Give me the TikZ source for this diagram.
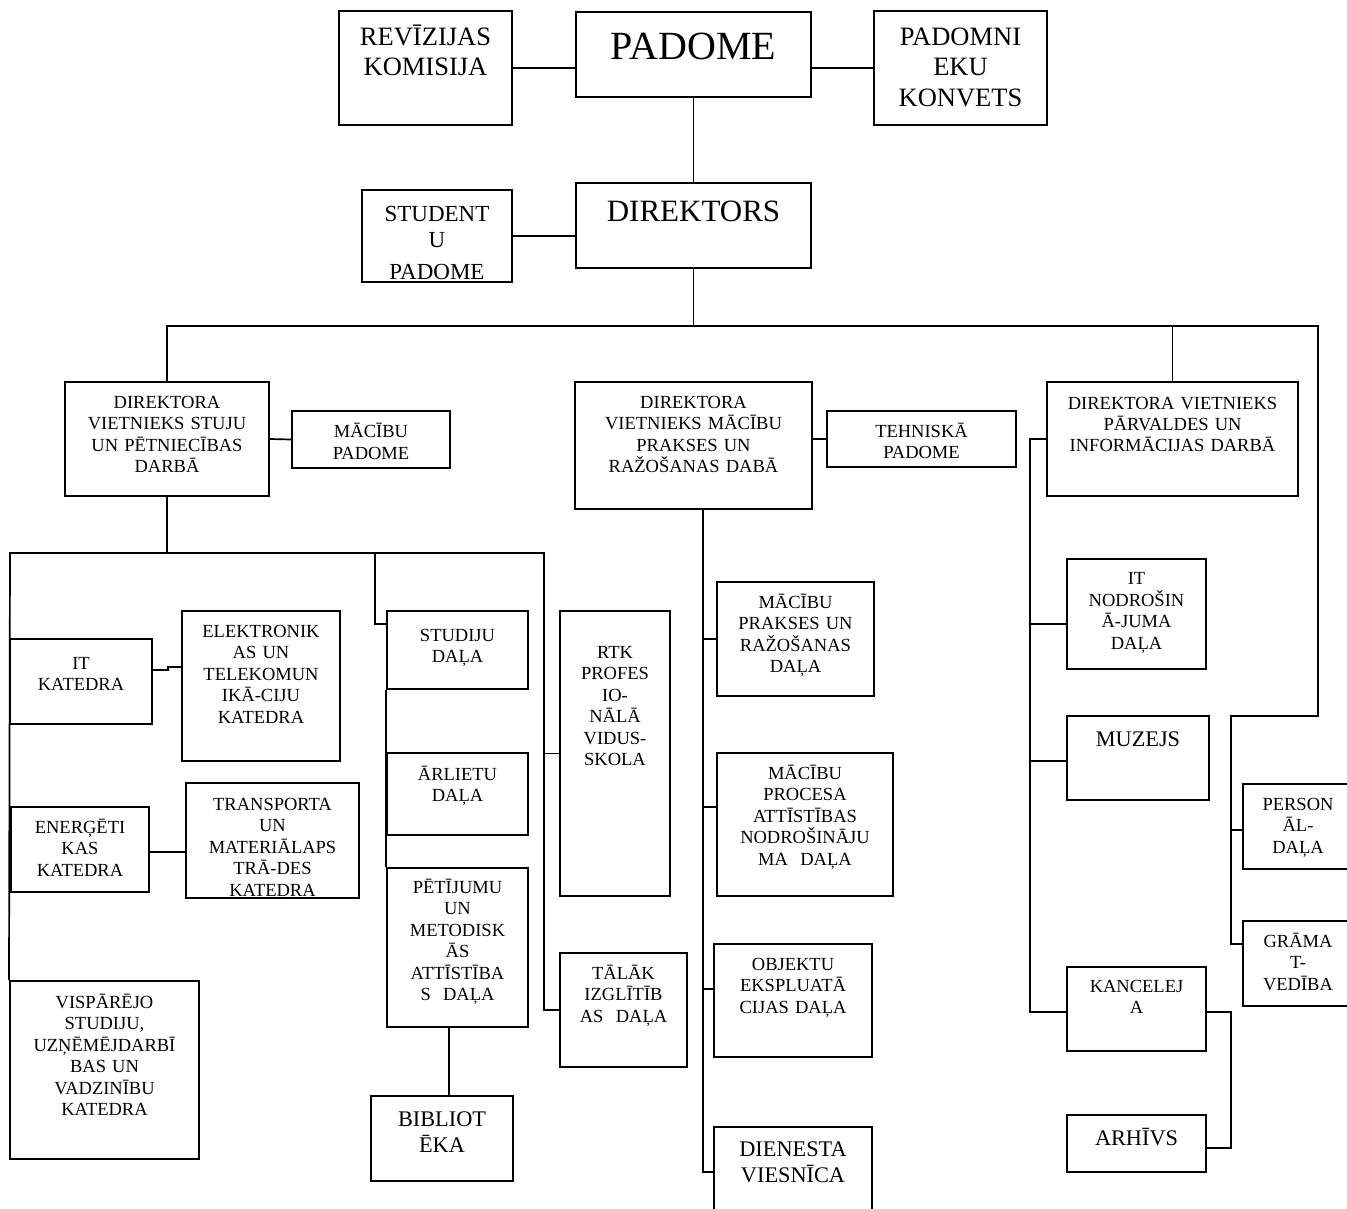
\documentclass[tikz,border=0pt]{standalone}
\usepackage{fontspec}
\setmainfont{Liberation Serif}
\usetikzlibrary{positioning}
\begin{document}
\begin{tikzpicture}[x=1pt, y=-1pt, node distance=8.5pt,
    box/.style={draw, line width=2pt, inner sep=0pt},
    link/.style={line width=1.7pt},
    lbl/.style={anchor=north, inner sep=0pt, text width=320pt, align=center,
      font=\fontsize{18.5}{21.5}\selectfont, execute at begin node={\rule{0pt}{1em}}},
    lblmid/.style={lbl, font=\fontsize{22.3}{26}\selectfont},
    lblbig/.style={lbl, font=\fontsize{26.5}{30.8}\selectfont}]
  \useasboundingbox (0,0) rectangle (1347,1209);
  \clip (0,0) rectangle (1347,1209);
  % top level
  \node[box, minimum width=173pt, minimum height=114pt] (rev) at (425.5,68) {};
  \node[box, minimum width=235pt, minimum height=85pt] (pad) at (693.5,54.5) {};
  \node[box, minimum width=173pt, minimum height=114pt] (pdn) at (960.5,68) {};
  \node[box, minimum width=150pt, minimum height=92pt] (stp) at (437,236) {};
  \node[box, minimum width=235pt, minimum height=85pt] (dir) at (693.5,225.5) {};
  \node[lblbig, below=of rev.north] (revT) {REVĪZIJAS\\KOMISIJA};
  \node[lbl, font=\fontsize{40}{46}\selectfont, below=8pt of pad.north] (padT) {PADOME};
  \node[lblbig, below=of pdn.north] (pdnT) {PADOMNI\\EKU\\KONVETS};
  \node[lbl, font=\fontsize{23}{26}\selectfont, below=9pt of stp.north] (stpT) {STUDENT\\U\\[6pt]PADOME};
  \node[lbl, font=\fontsize{31}{36}\selectfont, below=8pt of dir.north] (dirT) {DIREKTORS};
  % deputies
  \node[box, minimum width=204pt, minimum height=114pt] (dv1) at (167,439) {};
  \node[box, minimum width=158pt, minimum height=57pt] (mpad) at (371,439.5) {};
  \node[box, minimum width=237pt, minimum height=127pt] (dv2) at (693.5,445.5) {};
  \node[box, minimum width=189pt, minimum height=56pt] (tpad) at (921.5,439) {};
  \node[box, minimum width=251pt, minimum height=114pt] (dv3) at (1172.5,439) {};
  \node[lbl, below=of dv1.north] (dv1T) {DIREKTORA\\VIETNIEKS STUJU\\UN PĒTNIECĪBAS\\DARBĀ};
  \node[lbl, below=9pt of mpad.north] (mpadT) {MĀCĪBU\\PADOME};
  \node[lbl, below=of dv2.north] (dv2T) {DIREKTORA\\VIETNIEKS MĀCĪBU\\PRAKSES UN\\RAŽOŠANAS DABĀ};
  \node[lbl, below=of tpad.north] (tpadT) {TEHNISKĀ\\PADOME};
  \node[lbl, font=\fontsize{18.5}{21}\selectfont, below=9.5pt of dv3.north] (dv3T) {DIREKTORA VIETNIEKS\\PĀRVALDES UN\\INFORMĀCIJAS DARBĀ};
  % left branch
  \node[box, minimum width=142pt, minimum height=85pt] (itk) at (81,681.5) {};
  \node[box, minimum width=158pt, minimum height=150pt] (elk) at (261,686) {};
  \node[box, minimum width=138pt, minimum height=85pt] (enk) at (80,849.5) {};
  \node[box, minimum width=173pt, minimum height=115pt] (trk) at (272.5,840.5) {};
  \node[box, minimum width=189pt, minimum height=178pt] (vsp) at (104.5,1070) {};
  \node[box, minimum width=141pt, minimum height=78pt] (std) at (457.5,650) {};
  \node[box, minimum width=141pt, minimum height=82pt] (arl) at (457.5,794) {};
  \node[box, minimum width=141pt, minimum height=159pt] (pet) at (457.5,947.5) {};
  \node[box, minimum width=142pt, minimum height=85pt] (bib) at (442,1138.5) {};
  \node[box, minimum width=110pt, minimum height=285pt] (rtk) at (615,753.5) {};
  \node[box, minimum width=127pt, minimum height=114pt] (tal) at (623.5,1010) {};
  \node[lbl, below=12.5pt of itk.north] (itkT) {IT\\KATEDRA};
  \node[lbl, below=of elk.north] (elkT) {ELEKTRONIK\\AS UN\\TELEKOMUN\\IKĀ-CIJU\\KATEDRA};
  \node[lbl, below=of enk.north] (enkT) {ENERĢĒTI\\KAS\\KATEDRA};
  \node[lbl, below=9.5pt of trk.north] (trkT) {TRANSPORTA\\UN\\MATERIĀLAPS\\TRĀ-DES\\KATEDRA};
  \node[lbl, below=9.5pt of vsp.north] (vspT) {VISPĀRĒJO\\STUDIJU,\\UZŅĒMĒJDARBĪ\\BAS UN\\VADZINĪBU\\KATEDRA};
  \node[lbl, below=12.5pt of std.north] (stdT) {STUDIJU\\DAĻA};
  \node[lbl, below=9.5pt of arl.north] (arlT) {ĀRLIETU\\DAĻA};
  \node[lbl, below=7.5pt of pet.north] (petT) {PĒTĪJUMU\\UN\\METODISK\\ĀS\\ATTĪSTĪBA\\S~~DAĻA};
  \node[lblmid, below=of bib.north] (bibT) {BIBLIOT\\ĒKA};
  \node[lbl, below=29.5pt of rtk.north] (rtkT) {RTK\\PROFES\\IO-\\NĀLĀ\\VIDUS-\\SKOLA};
  \node[lbl, below=of tal.north] (talT) {TĀLĀK\\IZGLĪTĪB\\AS~~DAĻA};
  % middle branch
  \node[box, minimum width=157pt, minimum height=114pt] (mpr) at (795.5,639) {};
  \node[box, minimum width=176pt, minimum height=143pt] (mpc) at (805,824.5) {};
  \node[box, minimum width=158pt, minimum height=113pt] (obj) at (793,1000.5) {};
  \node[box, minimum width=158pt, minimum height=113pt] (die) at (793,1183.5) {};
  \node[lbl, below=of mpr.north] (mprT) {MĀCĪBU\\PRAKSES UN\\RAŽOŠANAS\\DAĻA};
  \node[lbl, below=of mpc.north] (mpcT) {MĀCĪBU\\PROCESA\\ATTĪSTĪBAS\\NODROŠINĀJU\\MA~~DAĻA};
  \node[lbl, below=of obj.north] (objT) {OBJEKTU\\EKSPLUATĀ\\CIJAS DAĻA};
  \node[lblmid, below=7.7pt of die.north] (dieT) {DIENESTA\\VIESNĪCA};
  % right branch
  \node[box, minimum width=139pt, minimum height=110pt] (itn) at (1136.5,614) {};
  \node[box, minimum width=142pt, minimum height=84pt] (muz) at (1138,758) {};
  \node[box, minimum width=139pt, minimum height=84pt] (kan) at (1136.5,1009) {};
  \node[box, minimum width=139pt, minimum height=57pt] (arh) at (1136.5,1143.5) {};
  \node[box, minimum width=110pt, minimum height=85pt] (per) at (1298,826.5) {};
  \node[box, minimum width=110pt, minimum height=85pt] (gra) at (1298,963.5) {};
  \node[lbl, below=8.2pt of itn.north] (itnT) {IT\\NODROŠIN\\Ā-JUMA\\DAĻA};
  \node[lblmid, below=of muz.north] (muzT) {MUZEJS};
  \node[lbl, below=7.5pt of kan.north] (kanT) {KANCELEJ\\A};
  \node[lblmid, below=9.4pt of arh.north] (arhT) {ARHĪVS};
  \node[lbl, below=of per.north] (perT) {PERSON\\ĀL-\\DAĻA};
  \node[lbl, below=of gra.north] (graT) {GRĀMA\\T-\\VEDĪBA};
  % connectors, top
  \coordinate (busR) at (1318,326);
  \coordinate (jP) at (1231,716);
  \draw[link] (rev.east) -- (rev.east -| pad.west);
  \draw[link] (pdn.west) -- (pdn.west -| pad.east);
  \draw[link] (pad.south) -- (dir.north);
  \draw[link] (stp.east) -- (stp.east -| dir.west);
  \draw[link] (dir.south) -- (dir.south |- busR);
  \draw[link] (dv1.north) |- (busR) |- (jP) -- (jP |- 0,944) -- (gra.west |- 0,944);
  \draw[link] (dv3.north) -- (dv3.north |- busR);
  \draw[link] (jP |- 0,830) -- (per.west |- 0,830);
  % left deputy
  \coordinate (subL) at (10,553);
  \coordinate (subR) at (544,553);
  \coordinate (jS) at (375,553);
  \draw[link] (dv1.east) -- (mpad.west);
  \draw[link] (dv1.south) -- (dv1.south |- subL);
  \draw[link] (vsp.north west) -- (subL) -- (subR) |- (tal.west);
  \draw[link] (rtk.west) -- (rtk.west -| subR);
  \draw[link] (jS) |- (std.west |- 0,624);
  \draw[link] (std.south west) -- (pet.north west);
  \draw[link] (itk.east |- 0,670) -| (168,667) -- (elk.west |- 0,667);
  \draw[link] (enk.east |- 0,852) -- (trk.west |- 0,852);
  \draw[link] (pet.south -| 449,0) -- (bib.north -| 449,0);
  % middle deputy
  \coordinate (jM) at (703,1172);
  \draw[link] (tpad.west) -- (tpad.west -| dv2.east);
  \draw[link] (dv2.south -| jM) -- (jM) -- (die.west |- jM);
  \draw[link] (mpr.west) -- (mpr.west -| jM);
  \draw[link] (mpc.west |- 0,807) -- (jM |- 0,807);
  \draw[link] (obj.west |- 0,989) -- (jM |- 0,989);
  % right deputy
  \coordinate (jK) at (1030,1012);
  \draw[link] (dv3.west) -| (jK) -- (kan.west |- jK);
  \draw[link] (itn.west |- 0,624) -- (jK |- 0,624);
  \draw[link] (muz.west |- 0,761) -- (jK |- 0,761);
  \draw[link] (kan.east |- jK) -- (1231,1012) |- (arh.east |- 0,1148);
\end{tikzpicture}
\end{document}
